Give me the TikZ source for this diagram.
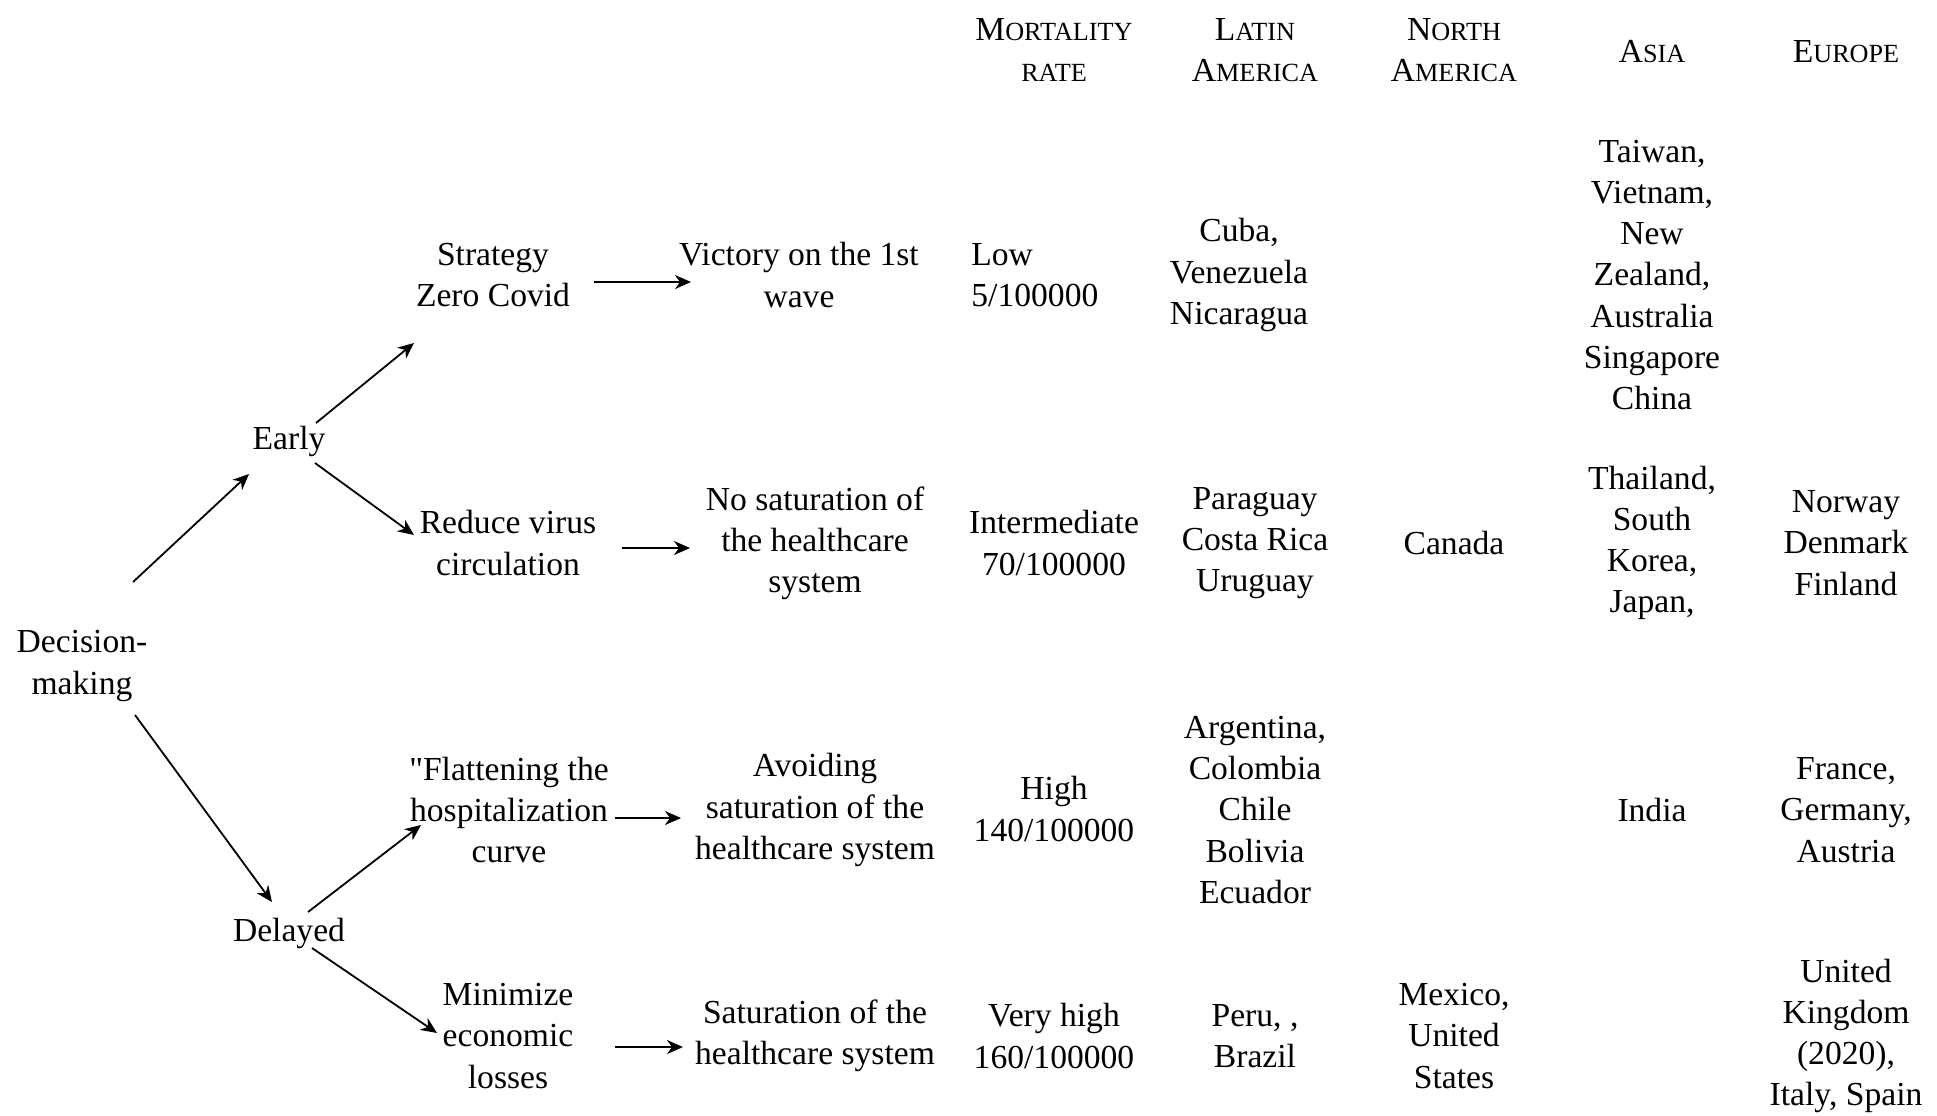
\documentclass[tikz,border=0pt]{standalone}
\usepackage{fontspec}
\setmainfont{Liberation Serif}[Ligatures=TeXOff]
\usetikzlibrary{arrows.meta,calc}

% fake small capitals for the column headings
\newcommand\capword[2]{#1{\fontsize{13.1}{20.6}\selectfont #2}}

\tikzset{
  lbl/.style={inner sep=0pt, align=center, font=\fontsize{16.8}{20.6}\selectfont},
  arr/.style={line width=0.9pt, -{Stealth[length=8pt,width=7pt,inset=2.5pt]}},
}

\begin{document}
\begin{tikzpicture}[x=0.5pt, y=-0.5pt]
  \useasboundingbox (0,0) rectangle (1937,1115);

  % column headings
  \node[lbl] (hmort)   at (1054,50) {\capword{M}{ORTALITY}\\\capword{}{RATE}};
  \node[lbl] (hlatin)  at (1255,50) {\capword{L}{ATIN}\\\capword{A}{MERICA}};
  \node[lbl] (hnorth)  at (1454,50) {\capword{N}{ORTH}\\\capword{A}{MERICA}};
  \node[lbl] (hasia)   at (1652,52) {\capword{A}{SIA}};
  \node[lbl] (heurope) at (1846,52) {\capword{E}{UROPE}};

  % decision tree
  \node[lbl] (dec)     at (82,666)   {Decision-\\making};
  \node[lbl] (early)   at (289,441)  {Early};
  \node[lbl] (delayed) at (289,933)  {Delayed};

  \node[lbl] (strat)   at (493,275)  {Strategy\\Zero Covid};
  \node[lbl] (reduce)  at (508,543)  {Reduce virus\\circulation};
  \node[lbl] (flat)    at (509,810)  {"Flattening the\\hospitalization\\curve};
  \node[lbl] (minim)   at (508,1036) {Minimize\\economic\\losses};

  \node[lbl] (victory) at (799,275)  {Victory on the 1st\\wave};
  \node[lbl] (nosat)   at (815,543)  {No saturation of\\the healthcare\\system};
  \node[lbl] (avoid)   at (815,810)  {Avoiding\\saturation of the\\healthcare system};
  \node[lbl] (sat)     at (815,1036) {Saturation of the\\healthcare system};

  % mortality rate
  \node[lbl, align=left, anchor=west] (low) at (971,275) {Low\\5/100000};
  \node[lbl] (interm)   at (1054,543)  {Intermediate\\70/100000};
  \node[lbl] (high)     at (1054,809)  {High\\140/100000};
  \node[lbl] (veryhigh) at (1054,1036) {Very high\\160/100000};

  % Latin America
  \node[lbl] (cuba)      at (1239,275)  {Cuba,\\Venezuela\\Nicaragua};
  \node[lbl] (paraguay)  at (1255,543)  {Paraguay\\Costa Rica\\Uruguay};
  \node[lbl] (argentina) at (1255,810)  {Argentina,\\Colombia\\Chile\\Bolivia\\Ecuador};
  \node[lbl] (peru)      at (1255,1036) {Peru, ,\\Brazil};

  % North America
  \node[lbl] (canada) at (1454,543)  {Canada};
  \node[lbl] (mexico) at (1454,1036) {Mexico,\\United\\States};

  % Asia
  \node[lbl] (taiwan)   at (1652,275) {Taiwan,\\Vietnam,\\New\\Zealand,\\Australia\\Singapore\\China};
  \node[lbl] (thailand) at (1652,543) {Thailand,\\South\\Korea,\\Japan,};
  \node[lbl] (india)    at (1652,810) {India};

  % Europe
  \node[lbl] (norway) at (1846,543)  {Norway\\Denmark\\Finland};
  \node[lbl] (france) at (1846,810)  {France,\\Germany,\\Austria};
  \node[lbl] (uk)     at (1846,1036) {United\\Kingdom\\(2020),\\Italy, Spain};

  % connectors
  \draw[arr] ($(dec)+(51,-84)$)     -- ($(early)+(-40,33)$);
  \draw[arr] ($(dec)+(53,49)$)      -- ($(delayed)+(-17,-31)$);
  \draw[arr] ($(early)+(27,-18)$)   -- ($(strat)+(-79,68)$);
  \draw[arr] ($(early)+(26,22)$)    -- ($(reduce)+(-94,-8)$);
  \draw[arr] ($(delayed)+(19,-21)$) -- ($(flat)+(-88,15)$);
  \draw[arr] ($(delayed)+(23,15)$)  -- ($(minim)+(-71,-3)$);
  \draw[arr] ($(strat)+(101,7)$)    -- ($(victory)+(-108,7)$);
  \draw[arr] ($(reduce)+(114,5)$)   -- ($(nosat)+(-125,5)$);
  \draw[arr] ($(flat)+(106,8)$)     -- ($(avoid)+(-134,8)$);
  \draw[arr] ($(minim)+(107,11)$)   -- ($(sat)+(-132,11)$);
\end{tikzpicture}
\end{document}
